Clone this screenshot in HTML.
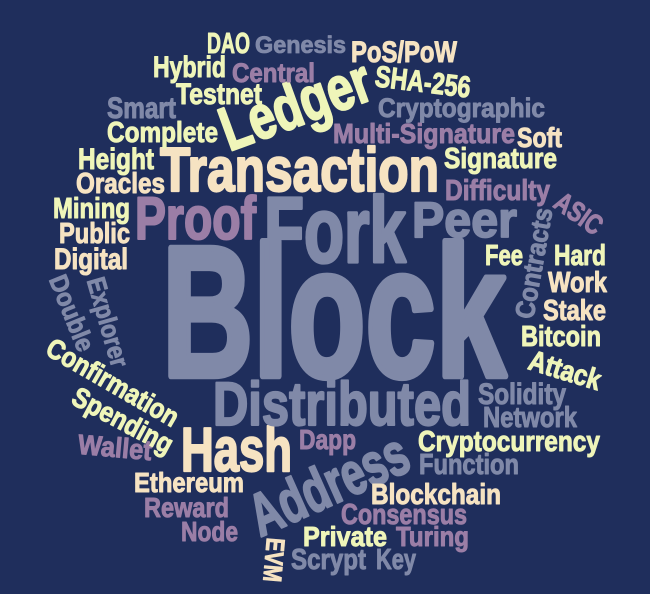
<!DOCTYPE html>
<html><head><meta charset="utf-8"><style>
html,body{margin:0;padding:0;background:#1f2e5c;}
svg{display:block}
text{font-family:"Liberation Sans Narrow","Liberation Sans",sans-serif;font-weight:bold;stroke-width:0.035em;stroke-linejoin:round;}
.g{fill:#8089a8;stroke:#8089a8}.p{fill:#9b7ea6;stroke:#9b7ea6}.y{fill:#eff5b9;stroke:#eff5b9}.e{fill:#f6e3c2;stroke:#f6e3c2}
</style></head><body>
<svg width="650" height="594" viewBox="0 0 650 594">
<rect width="650" height="594" fill="#1f2e5c"/>
<text class="g" x="162" y="376" font-size="186" textLength="344" lengthAdjust="spacingAndGlyphs">Block</text>
<text class="g" x="264" y="262" font-size="93" textLength="142" lengthAdjust="spacingAndGlyphs">Fork</text>
<text class="p" x="135" y="239" font-size="60" textLength="121" lengthAdjust="spacingAndGlyphs">Proof</text>
<text class="e" x="160" y="191" font-size="62" textLength="279" lengthAdjust="spacingAndGlyphs">Transaction</text>
<text class="g" x="412" y="237" font-size="50" textLength="105" lengthAdjust="spacingAndGlyphs">Peer</text>
<text class="e" x="181" y="471" font-size="62" textLength="111" lengthAdjust="spacingAndGlyphs">Hash</text>
<text class="g" x="213" y="425" font-size="61" textLength="258" lengthAdjust="spacingAndGlyphs">Distributed</text>
<g transform="translate(295,104) rotate(-20)"><text class="y" x="-78" y="22" font-size="62" textLength="156" lengthAdjust="spacingAndGlyphs">Ledger</text></g>
<g transform="translate(328,483) rotate(-24)"><text class="g" x="-84" y="22" font-size="60" textLength="168" lengthAdjust="spacingAndGlyphs">Address</text></g>
<text class="y" x="207" y="53" font-size="29" textLength="43" lengthAdjust="spacingAndGlyphs">DAO</text>
<text class="g" x="255" y="53" font-size="24" textLength="91" lengthAdjust="spacingAndGlyphs">Genesis</text>
<text class="e" x="351" y="62" font-size="30" textLength="106" lengthAdjust="spacingAndGlyphs">PoS/PoW</text>
<text class="y" x="153" y="77" font-size="30" textLength="73" lengthAdjust="spacingAndGlyphs">Hybrid</text>
<text class="p" x="232" y="82" font-size="27" textLength="83" lengthAdjust="spacingAndGlyphs">Central</text>
<g transform="translate(423,81) rotate(7)"><text class="y" x="-48" y="11" font-size="30" textLength="96" lengthAdjust="spacingAndGlyphs">SHA-256</text></g>
<text class="y" x="176" y="104" font-size="30" textLength="86" lengthAdjust="spacingAndGlyphs">Testnet</text>
<text class="g" x="107" y="118" font-size="30" textLength="69" lengthAdjust="spacingAndGlyphs">Smart</text>
<text class="g" x="378" y="117" font-size="27" textLength="167" lengthAdjust="spacingAndGlyphs">Cryptographic</text>
<text class="y" x="107" y="142" font-size="29" textLength="111" lengthAdjust="spacingAndGlyphs">Complete</text>
<text class="p" x="333" y="143" font-size="28" textLength="182" lengthAdjust="spacingAndGlyphs">Multi-Signature</text>
<text class="e" x="517" y="147" font-size="28" textLength="45" lengthAdjust="spacingAndGlyphs">Soft</text>
<text class="y" x="78" y="169" font-size="30" textLength="76" lengthAdjust="spacingAndGlyphs">Height</text>
<text class="y" x="444" y="168" font-size="29" textLength="113" lengthAdjust="spacingAndGlyphs">Signature</text>
<text class="e" x="76" y="193" font-size="29" textLength="89" lengthAdjust="spacingAndGlyphs">Oracles</text>
<text class="p" x="445" y="200" font-size="29" textLength="105" lengthAdjust="spacingAndGlyphs">Difficulty</text>
<g transform="translate(579,213) rotate(35)"><text class="p" x="-26" y="10" font-size="28" textLength="52" lengthAdjust="spacingAndGlyphs">ASIC</text></g>
<text class="y" x="53" y="218" font-size="29" textLength="77" lengthAdjust="spacingAndGlyphs">Mining</text>
<text class="e" x="59" y="243" font-size="29" textLength="71" lengthAdjust="spacingAndGlyphs">Public</text>
<text class="e" x="54" y="269" font-size="30" textLength="74" lengthAdjust="spacingAndGlyphs">Digital</text>
<g transform="translate(533,263) rotate(-80)"><text class="g" x="-56" y="10" font-size="27" textLength="112" lengthAdjust="spacingAndGlyphs">Contracts</text></g>
<text class="y" x="485" y="265" font-size="29" textLength="38" lengthAdjust="spacingAndGlyphs">Fee</text>
<text class="y" x="554" y="265" font-size="29" textLength="52" lengthAdjust="spacingAndGlyphs">Hard</text>
<text class="e" x="548" y="292" font-size="29" textLength="59" lengthAdjust="spacingAndGlyphs">Work</text>
<text class="e" x="543" y="320" font-size="29" textLength="63" lengthAdjust="spacingAndGlyphs">Stake</text>
<text class="y" x="521" y="346" font-size="29" textLength="80" lengthAdjust="spacingAndGlyphs">Bitcoin</text>
<g transform="translate(565,370) rotate(17)"><text class="y" x="-37" y="10" font-size="29" textLength="74" lengthAdjust="spacingAndGlyphs">Attack</text></g>
<text class="g" x="478" y="404" font-size="30" textLength="88" lengthAdjust="spacingAndGlyphs">Solidity</text>
<text class="g" x="483" y="427" font-size="29" textLength="94" lengthAdjust="spacingAndGlyphs">Network</text>
<text class="y" x="418" y="451" font-size="29" textLength="182" lengthAdjust="spacingAndGlyphs">Cryptocurrency</text>
<text class="g" x="419" y="474" font-size="29" textLength="100" lengthAdjust="spacingAndGlyphs">Function</text>
<text class="p" x="299" y="449" font-size="28" textLength="57" lengthAdjust="spacingAndGlyphs">Dapp</text>
<text class="e" x="371" y="504" font-size="29" textLength="130" lengthAdjust="spacingAndGlyphs">Blockchain</text>
<text class="p" x="341" y="524" font-size="29" textLength="126" lengthAdjust="spacingAndGlyphs">Consensus</text>
<text class="y" x="303" y="546" font-size="28" textLength="84" lengthAdjust="spacingAndGlyphs">Private</text>
<text class="p" x="396" y="546" font-size="28" textLength="73" lengthAdjust="spacingAndGlyphs">Turing</text>
<text class="g" x="291" y="569" font-size="29" textLength="75" lengthAdjust="spacingAndGlyphs">Scrypt</text>
<text class="g" x="376" y="569" font-size="29" textLength="40" lengthAdjust="spacingAndGlyphs">Key</text>
<g transform="translate(274,560) rotate(95)"><text class="e" x="-22" y="9" font-size="26" textLength="44" lengthAdjust="spacingAndGlyphs">EVM</text></g>
<text class="p" x="181" y="541" font-size="28" textLength="57" lengthAdjust="spacingAndGlyphs">Node</text>
<text class="p" x="144" y="517" font-size="28" textLength="85" lengthAdjust="spacingAndGlyphs">Reward</text>
<text class="e" x="134" y="492" font-size="28" textLength="110" lengthAdjust="spacingAndGlyphs">Ethereum</text>
<g transform="translate(115,447) rotate(5)"><text class="p" x="-37" y="10" font-size="28" textLength="74" lengthAdjust="spacingAndGlyphs">Wallet</text></g>
<g transform="translate(123,420) rotate(28)"><text class="y" x="-55" y="10" font-size="28" textLength="110" lengthAdjust="spacingAndGlyphs">Spending</text></g>
<g transform="translate(113,382) rotate(30)"><text class="y" x="-74" y="10" font-size="28" textLength="148" lengthAdjust="spacingAndGlyphs">Confirmation</text></g>
<g transform="translate(72,313) rotate(68)"><text class="g" x="-40" y="9" font-size="26" textLength="80" lengthAdjust="spacingAndGlyphs">Double</text></g>
<g transform="translate(108,322) rotate(74)"><text class="g" x="-46" y="9" font-size="26" textLength="92" lengthAdjust="spacingAndGlyphs">Explorer</text></g>
</svg>
</body></html>
